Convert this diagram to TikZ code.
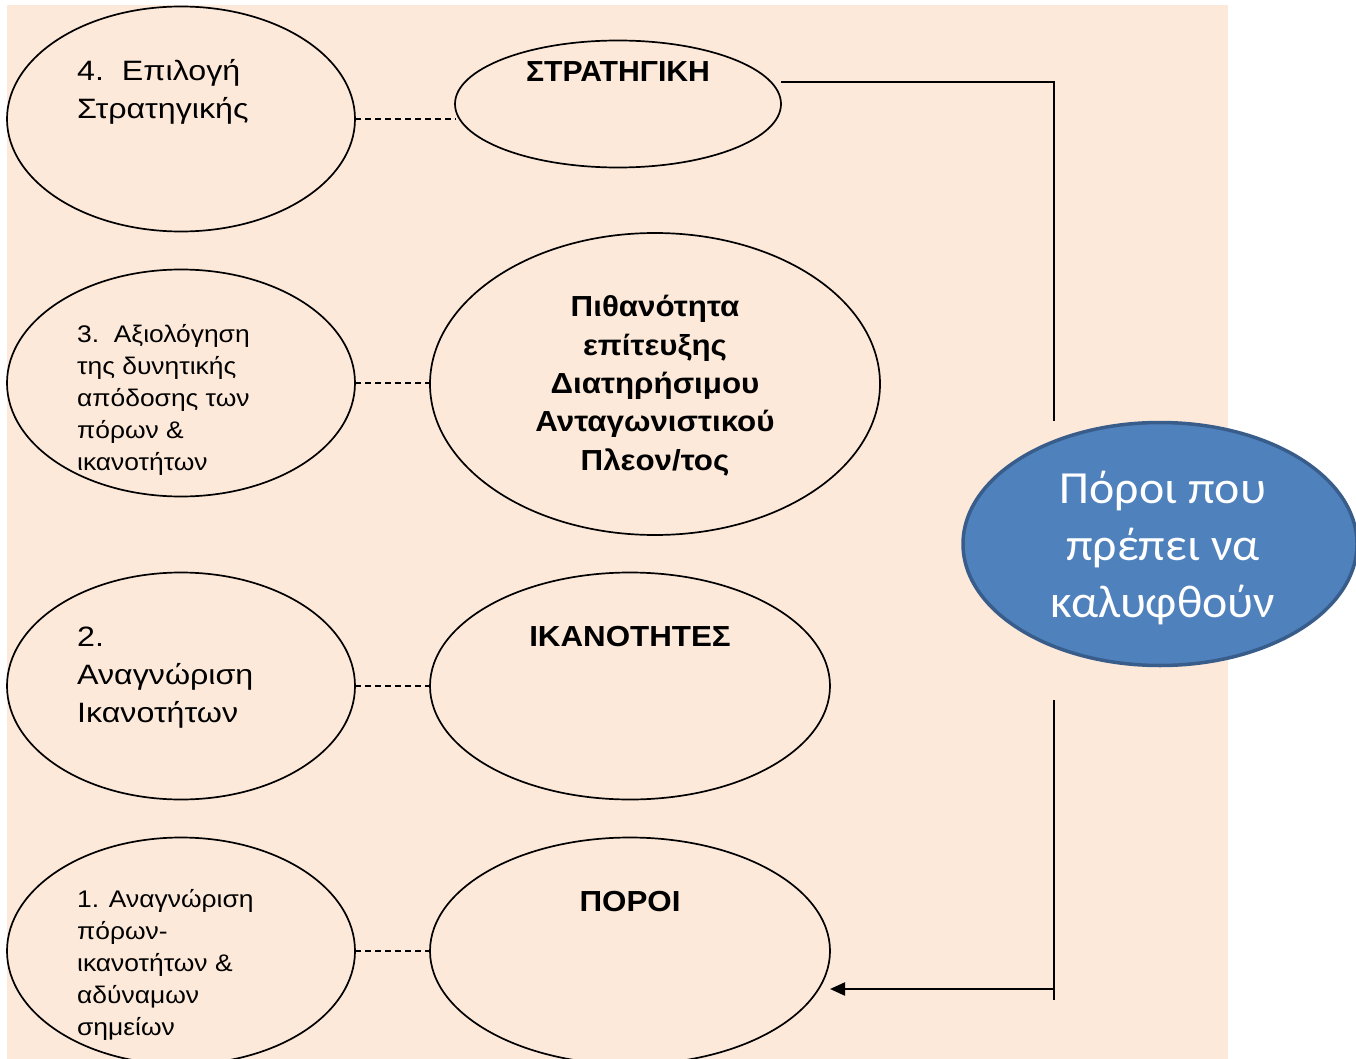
\documentclass[tikz,border=0pt]{standalone}
\usepackage{fontspec}
\setmainfont{Liberation Sans}
\newfontfamily\bigf[FakeStretch=1.15]{Liberation Sans}
\newfontfamily\smallf[FakeStretch=1.1]{Liberation Sans}
\newfontfamily\boldf[FakeStretch=1.08]{Liberation Sans Bold}
\newfontfamily\boldnarrowf[FakeStretch=1.04]{Liberation Sans Bold}
\newfontfamily\calibf[FakeStretch=1.04]{Carlito}
\usetikzlibrary{shapes.geometric,arrows.meta}
\definecolor{peach}{HTML}{FDE9D9}
\definecolor{blfill}{HTML}{4F81BD}
\definecolor{bldraw}{HTML}{385D8A}
\tikzset{
  oval/.style={ellipse,draw=black,line width=1.7pt,inner sep=0pt,outer sep=0pt},
  bigtxt/.style={anchor=base west,inner sep=0pt,align=left,font=\bigf\fontsize{28}{38}\selectfont},
  smalltxt/.style={anchor=base west,inner sep=0pt,align=left,font=\smallf\fontsize{24}{32}\selectfont},
  boldtxt/.style={anchor=base,inner sep=0pt,align=center,font=\boldf\fontsize{29}{38.3}\selectfont},
  dashlink/.style={draw=black,line width=1.5pt,dash pattern=on 6pt off 4pt},
  solidlink/.style={draw=black,line width=2.2pt}
}
\begin{document}
\begin{tikzpicture}[x=1pt,y=-1pt]
\useasboundingbox (0,0) rectangle (1356,1059);
\clip (0,0) rectangle (1356,1059);
\fill[peach] (7,5) rectangle (1228,1059);
% left ellipses
\node[oval,minimum width=348pt,minimum height=225pt] (e4) at (181,119) {};
\node[oval,minimum width=348pt,minimum height=227pt] (e3) at (181,383) {};
\node[oval,minimum width=348pt,minimum height=227pt] (e2) at (181,686) {};
\node[oval,minimum width=348pt,minimum height=227pt] (e1) at (181,951) {};
% right ellipses
\node[oval,minimum width=326pt,minimum height=127pt] (strat) at (618,104) {};
\node[oval,minimum width=450pt,minimum height=302pt] (mid) at (655,384) {};
\node[oval,minimum width=400pt,minimum height=227pt] (ikan) at (630,686) {};
\node[oval,minimum width=400pt,minimum height=227pt] (poroi) at (630,951) {};
% blue ellipse
\node[ellipse,fill=blfill,draw=bldraw,line width=3.5pt,inner sep=0pt,minimum width=394pt,minimum height=243pt] (blue) at (1160,544) {};
% texts (base anchor = last line baseline)
\node[bigtxt] (t4) at (77,119) {4.\ \ Επιλογή\\Στρατηγικής};
\node[smalltxt] (t3) at (77,470) {3.\ \ Αξιολόγηση\\της δυνητικής\\απόδοσης των\\πόρων \&\\ικανοτήτων};
\node[bigtxt] (t2) at (77,722) {2.\\Αναγνώριση\\Ικανοτήτων};
\node[smalltxt] (t1) at (77,1035) {1. Αναγνώριση\\πόρων-\\ικανοτήτων \&\\αδύναμων\\σημείων};
\node[boldtxt,font=\boldnarrowf\fontsize{29}{38.3}\selectfont] (ts) at (618,82) {ΣΤΡΑΤΗΓΙΚΗ};
\node[boldtxt] (tm) at (655,470) {Πιθανότητα\\επίτευξης\\Διατηρήσιμου\\Ανταγωνιστικού\\Πλεον/τος};
\node[boldtxt] (ti) at (630,646) {ΙΚΑΝΟΤΗΤΕΣ};
\node[boldtxt] (tp) at (630,911) {ΠΟΡΟΙ};
\node[anchor=base,inner sep=0pt,align=center,text=white,font=\calibf\fontsize{46}{57}\selectfont] (tb) at (1163,617) {Πόροι που\\πρέπει να\\καλυφθούν};
% dashed links
\draw[dashlink] (e4.east |- 0,119) -- (456,119);
\draw[dashlink] (e3.east) -- (mid.west |- e3.east);
\draw[dashlink] (e2.east) -- (ikan.west);
\draw[dashlink] (e1.east) -- (poroi.west);
% solid connector
\coordinate (c1) at (781,82);
\coordinate (c2) at (1054,82);
\coordinate (c3) at (1054,421);
\coordinate (c4) at (1054,700);
\coordinate (c5) at (1054,1000);
\coordinate (c6) at (1054,989);
\coordinate (c7) at (830,989);
\draw[solidlink] (c1) -- (c2) -- (c3);
\draw[solidlink] (c4) -- (c5);
\draw[solidlink,-{Triangle[length=15pt,width=13pt]}] (c6) -- (c7);
\end{tikzpicture}
\end{document}
